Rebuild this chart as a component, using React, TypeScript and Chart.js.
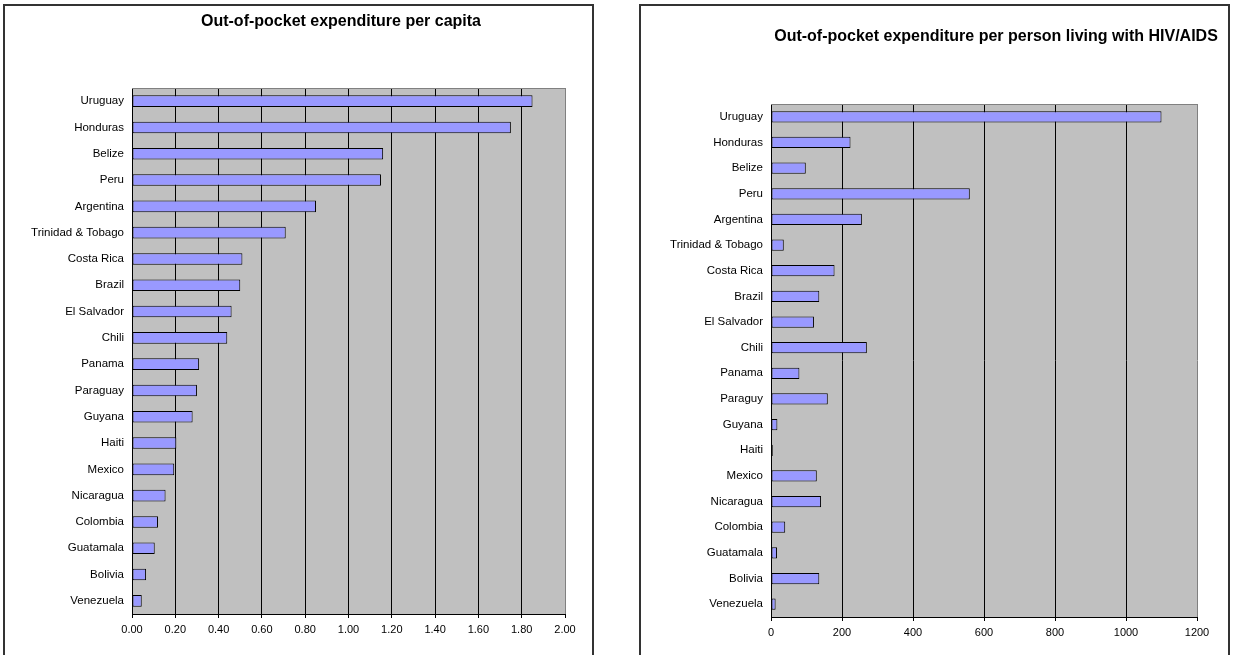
import React, { useEffect, useRef } from 'react';
import { Chart, registerables } from 'chart.js';

Chart.register(...registerables);

const FONT = '"Liberation Sans", Arial, Helvetica, sans-serif';

const leftCategories = [
  'Uruguay', 'Honduras', 'Belize', 'Peru', 'Argentina', 'Trinidad & Tobago', 'Costa Rica',
  'Brazil', 'El Salvador', 'Chili', 'Panama', 'Paraguay', 'Guyana', 'Haiti', 'Mexico',
  'Nicaragua', 'Colombia', 'Guatamala', 'Bolivia', 'Venezuela',
];
const rightCategories = [
  'Uruguay', 'Honduras', 'Belize', 'Peru', 'Argentina', 'Trinidad & Tobago', 'Costa Rica',
  'Brazil', 'El Salvador', 'Chili', 'Panama', 'Paraguy', 'Guyana', 'Haiti', 'Mexico',
  'Nicaragua', 'Colombia', 'Guatamala', 'Bolivia', 'Venezuela',
];
const perCapitaValues = [
  1.85, 1.75, 1.16, 1.15, 0.85, 0.71, 0.51, 0.5, 0.46, 0.44,
  0.31, 0.3, 0.28, 0.205, 0.195, 0.155, 0.12, 0.105, 0.065, 0.045,
];
const perHivValues = [
  1100, 224, 98, 560, 256, 36, 179, 136, 121, 270,
  80, 160, 18, 5, 129, 141, 40, 17, 136, 13,
];
const leftTitle = 'Out-of-pocket expenditure per capita';
const rightTitle = 'Out-of-pocket expenditure per person living with HIV/AIDS';

const plotPlugin = {
  id: 'plotDeco',
  beforeDraw(chart: any) {
    const { ctx, chartArea: a } = chart;
    ctx.save();
    ctx.fillStyle = '#C0C0C0';
    ctx.fillRect(a.left, a.top, a.right - a.left, a.bottom - a.top);
    ctx.restore();
  },
  afterDraw(chart: any, _args: any, opts: any) {
    const { ctx, chartArea: a } = chart;
    ctx.save();
    ctx.strokeStyle = '#808080';
    ctx.lineWidth = 1;
    ctx.beginPath();
    const y = Math.round(a.top) + 0.5;
    ctx.moveTo(a.left, y);
    ctx.lineTo(a.right, y);
    ctx.stroke();
    ctx.font = `bold ${opts.size}px ${FONT}`;
    ctx.fillStyle = '#000';
    ctx.textAlign = 'center';
    ctx.textBaseline = 'middle';
    ctx.fillText(opts.text, opts.x, opts.y);
    ctx.restore();
  },
};

interface PanelProps {
  labels: string[];
  values: number[];
  max: number;
  step: number;
  decimals: number;
  title: string;
  titleX: number;
  titleY: number;
  plotLeft: number;
  plotTop: number;
  plotBottom: number;
  padRight: number;
  barPct: number;
  left: number;
}

const CW = 587;
const CH = 650;

function BarPanel(p: PanelProps) {
  const ref = useRef<HTMLCanvasElement | null>(null);
  useEffect(() => {
    if (!ref.current) return;
    const max = p.max;
    const chart = new Chart(ref.current, {
      type: 'bar',
      data: {
        labels: p.labels,
        datasets: [
          {
            data: p.values,
            backgroundColor: '#9999FF',
            borderColor: '#000000',
            borderWidth: 1,
            borderSkipped: false,
            barPercentage: p.barPct,
            categoryPercentage: 1,
          },
        ],
      },
      options: {
        indexAxis: 'y',
        responsive: false,
        animation: false,
        devicePixelRatio: 1,
        layout: { padding: { left: 0, top: p.plotTop, right: p.padRight, bottom: 0 } },
        plugins: {
          legend: { display: false },
          tooltip: { enabled: false },
          title: { display: false },
          plotDeco: { text: p.title, x: p.titleX, y: p.titleY, size: 16 },
        } as any,
        scales: {
          x: {
            type: 'linear',
            min: 0,
            max: max,
            ticks: {
              stepSize: p.step,
              autoSkip: false,
              maxRotation: 0,
              padding: 5,
              color: '#000',
              font: { family: FONT, size: 11 },
              callback: (v: any) => Number(v).toFixed(p.decimals),
            },
            grid: {
              display: true,
              drawOnChartArea: true,
              drawTicks: true,
              tickLength: 4,
              lineWidth: 1,
              tickColor: '#000',
              color: (c: any) => (c.tick && c.tick.value >= max - 1e-9 ? '#808080' : '#000'),
            },
            border: { display: true, color: '#000', width: 1 },
            afterFit: (s: any) => {
              s.height = CH - p.plotBottom;
            },
          },
          y: {
            type: 'category',
            ticks: {
              padding: 8,
              color: '#000',
              autoSkip: false,
              font: { family: FONT, size: 11.5 },
            },
            grid: { display: false, drawTicks: false },
            border: { display: true, color: '#000', width: 1 },
            afterFit: (s: any) => {
              s.width = p.plotLeft;
            },
          },
        },
      },
      plugins: [plotPlugin],
    } as any);
    return () => chart.destroy();
  }, []);
  return (
    <div
      style={{
        position: 'absolute',
        left: p.left,
        top: 4,
        width: CW,
        height: 700,
        border: '2px solid #333',
        background: '#fff',
      }}
    >
      <canvas ref={ref} width={CW} height={CH} style={{ display: 'block', width: CW, height: CH }} />
    </div>
  );
}

export default function App() {
  return (
    <div
      style={{
        position: 'fixed',
        left: 0,
        top: 0,
        width: 1233,
        height: 655,
        overflow: 'hidden',
        background: '#fff',
      }}
    >
      <BarPanel
        labels={leftCategories}
        values={perCapitaValues}
        max={2}
        step={0.2}
        decimals={2}
        title={leftTitle}
        titleX={336}
        titleY={16}
        plotLeft={127}
        plotTop={82}
        plotBottom={608}
        padRight={27}
        barPct={0.44}
        left={3}
      />
      <BarPanel
        labels={rightCategories}
        values={perHivValues}
        max={1200}
        step={200}
        decimals={0}
        title={rightTitle}
        titleX={355}
        titleY={31}
        plotLeft={130}
        plotTop={98}
        plotBottom={611}
        padRight={31}
        barPct={0.44}
        left={639}
      />
    </div>
  );
}
